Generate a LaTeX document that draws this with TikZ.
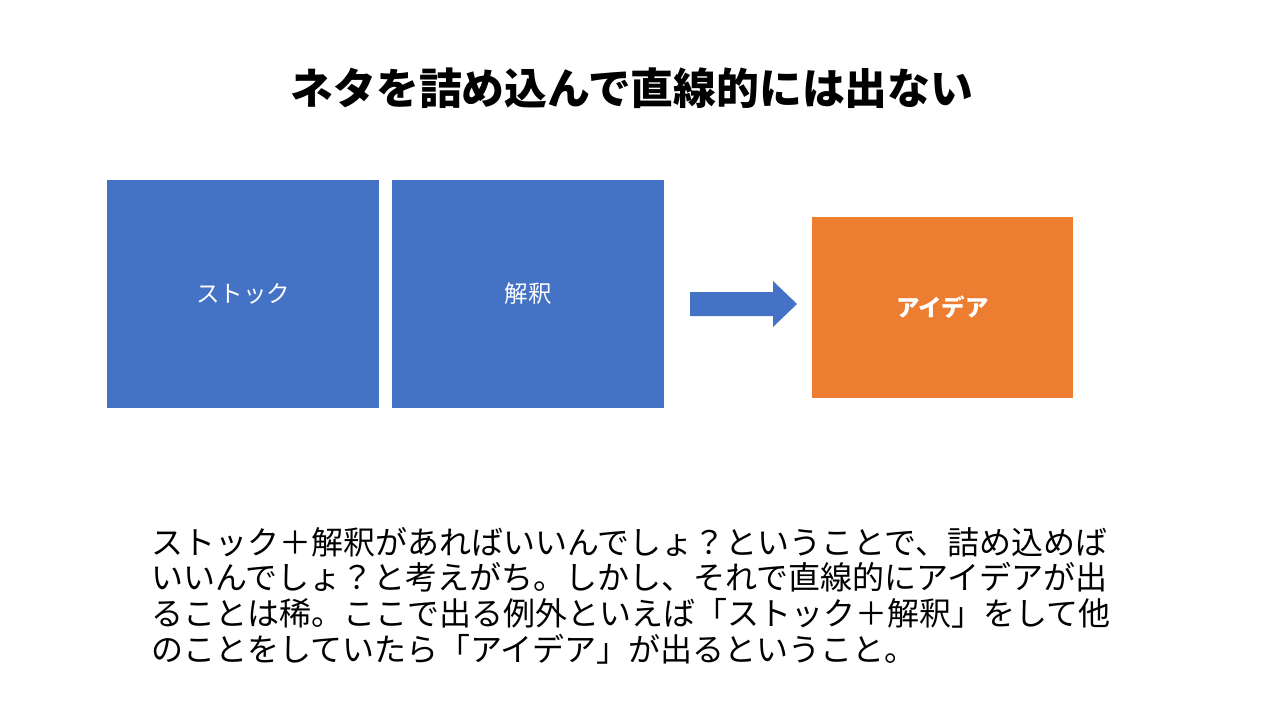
\documentclass[tikz,border=0pt]{standalone}
\usepackage{fontspec}
\setmainfont{Noto Sans CJK JP}
\usepackage{xcolor}
\usetikzlibrary{positioning}

\definecolor{boxblue}{HTML}{4472C4}
\definecolor{boxorange}{HTML}{ED7D31}

\begin{document}
\begin{tikzpicture}[
    x=1pt, y=-1pt,
    part/.style={fill=boxblue, minimum width=272pt, minimum height=228pt,
                 inner sep=0pt, text=white, font=\fontsize{23.5}{28}\selectfont},
    result/.style={fill=boxorange, minimum width=261pt, minimum height=181pt,
                   inner sep=0pt, text=white, font=\fontsize{23.5}{28}\selectfont\bfseries},
    heading/.style={font=\fontsize{42.8}{50}\selectfont\bfseries, inner sep=0pt},
    body/.style={font=\fontsize{32}{35.7}\selectfont, align=left, inner sep=0pt}
]
\useasboundingbox (0,0) rectangle (1280,720);

% Title
\node[heading] (title) at (632, 88) {ネタを詰め込んで直線的には出ない};

% Inputs
\node[part] (stock) at (243, 294) {ストック};
\node[part] (kaishaku) at (528, 294) {解釈};

% Output
\node[result] (idea) at (942.5, 307.5) {アイデア};

% Block arrow between them
\coordinate (arr) at (690, 304);
\fill[boxblue] (arr) ++(0,-12) -- ++(83,0) -- ++(0,-11) -- ++(24,23)
    -- ++(-24,23) -- ++(0,-11) -- ++(-83,0) -- cycle;

% Explanation
\node[body, anchor=north west] (note) at (151, 527) {%
ストック＋解釈があればいいんでしょ？ということで、詰め込めば\\
いいんでしょ？と考えがち。しかし、それで直線的にアイデアが出\\
ることは稀。ここで出る例外といえば「ストック＋解釈」をして他\\
のことをしていたら「アイデア」が出るということ。};

\end{tikzpicture}
\end{document}
